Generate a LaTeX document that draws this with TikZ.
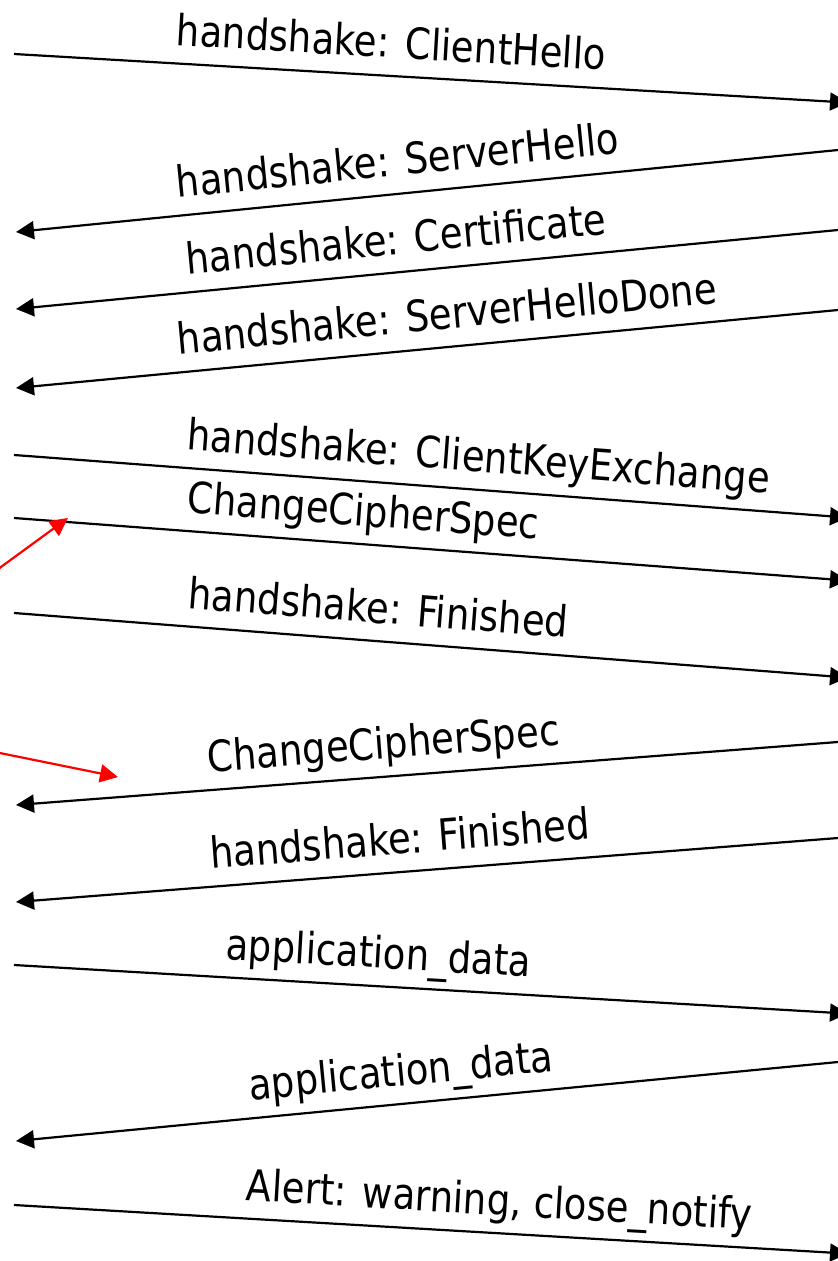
\documentclass[tikz,border=0pt]{standalone}
\usepackage{fontspec}
\setmainfont[FakeStretch=0.86]{DejaVu Sans}
\usetikzlibrary{arrows.meta}

\begin{document}
\begin{tikzpicture}[x=0.5pt,y=-0.5pt,
  msg/.style={-{Triangle[length=9pt,width=9pt]},line width=1.1pt},
  note/.style={-{Triangle[length=9pt,width=9pt]},line width=1.1pt,red},
  lbl/.style={sloped,above=8.5pt,inner sep=0pt,text depth=0pt,font=\fontsize{21.5}{26}\selectfont}]
\useasboundingbox (0,0) rectangle (838,1261);
\clip (0,0) rectangle (838,1261);
% client -> server
\foreach \n/\ya/\yb/\p/\txt in {
  1/54/102.6/0.45/{handshake: ClientHello},
  5/455/517.6/0.554/{handshake: ClientKeyExchange},
  6/518/580.6/0.416/{ChangeCipherSpec},
  7/613/677.6/0.434/{handshake: Finished},
  10/965/1013.6/0.435/{application\_data},
  12/1205/1253.6/0.58/{Alert: warning, close\_notify}}
{
  \coordinate (c\n) at (14,\ya);
  \coordinate (s\n) at (848,\yb);
  \draw[msg] (c\n) -- node[lbl,pos=\p] {\txt} (s\n);
}
% server -> client
\foreach \n/\ya/\yb/\p/\txt in {
  2/150/232/0.532/{handshake: ServerHello},
  3/230/309/0.534/{handshake: Certificate},
  4/310/388/0.472/{handshake: ServerHelloDone},
  8/742/805/0.55/{ChangeCipherSpec},
  9/838/902/0.53/{handshake: Finished},
  11/1062/1141/0.528/{application\_data}}
{
  \coordinate (s\n) at (838,\ya);
  \coordinate (c\n) at (16,\yb);
  \draw[msg] (s\n) -- node[lbl,pos=\p] {\txt} (c\n);
}
% red pointers from the margin
\coordinate (r1) at (-10,575);
\coordinate (t1) at (68,518);
\coordinate (r2) at (-10,751);
\coordinate (t2) at (118,777);
\draw[note] (r1) -- (t1);
\draw[note] (r2) -- (t2);
\end{tikzpicture}
\end{document}
